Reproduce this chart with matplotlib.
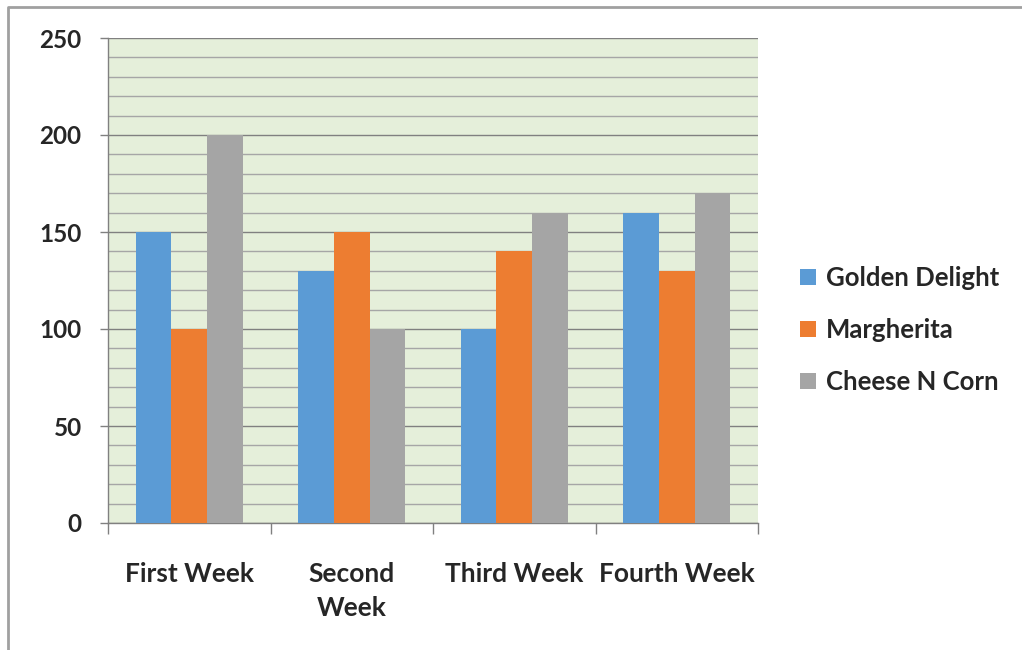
import numpy as np
import matplotlib.pyplot as plt
from matplotlib.ticker import MultipleLocator
from matplotlib.lines import Line2D

# Weekly sales per pizza
weeks = ['First Week', 'Second\nWeek', 'Third Week', 'Fourth Week']
golden = [150, 130, 100, 160]
marg = [100, 150, 140, 130]
cheese = [200, 100, 160, 170]
names = ['Golden Delight', 'Margherita', 'Cheese N Corn']
colours = ['#5b9bd5', '#ed7d31', '#a5a5a5']

plt.rcParams['font.family'] = ['Lato', 'DejaVu Sans']
txt = '#262626'

fig = plt.figure(figsize=(10.22, 6.5), dpi=100)
ax = fig.add_axes([108 / 1022, 127 / 650, 650 / 1022, 485 / 650])
ax.set_facecolor('#e5efda')

x = np.arange(len(weeks))
w = 0.22
series = [golden, marg, cheese]
bars = []
for i in range(3):
    b = ax.bar(x + (i - 1) * w, series[i], w, color=colours[i], zorder=3, label=names[i])
    bars.append(b)

ax.set_xlim(-0.5, 3.5)
ax.set_ylim(0, 250)

# gridlines: every 10, darker every 50
ax.yaxis.set_major_locator(MultipleLocator(50))
ax.yaxis.set_minor_locator(MultipleLocator(10))
ax.grid(which='minor', axis='y', color='#a6a6a6', linewidth=1.0, zorder=1)
ax.grid(which='major', axis='y', color='#808080', linewidth=1.0, zorder=1)
ax.tick_params(axis='y', which='minor', length=0)
ax.tick_params(axis='y', which='major', length=6, width=1, color='#808080',
               labelsize=17.5, labelcolor=txt, pad=13)
for lab in ax.get_yticklabels():
    lab.set_fontweight('bold')

# category boundaries as ticks, labels in centre
ax.set_xticks(np.arange(-0.5, 4, 1))
ax.set_xticklabels([])
ax.set_xticks(x, minor=True)
ax.set_xticklabels(weeks, minor=True, fontsize=19, fontweight='bold', color=txt, linespacing=1.5)
ax.tick_params(axis='x', which='major', length=8, width=1, color='#808080')
ax.tick_params(axis='x', which='minor', length=0, pad=28)

for s in ['top', 'right']:
    ax.spines[s].set_visible(False)
for s in ['left', 'bottom']:
    ax.spines[s].set_color('#808080')
    ax.spines[s].set_linewidth(1)

leg = fig.legend(handles=bars, labels=names, loc='center left',
                 bbox_to_anchor=(777 / 1022, 1 - 330 / 650), frameon=False,
                 fontsize=18.5, handlelength=0.6, handleheight=0.6, handletextpad=0.4,
                 labelspacing=1.1)
for t in leg.get_texts():
    t.set_fontweight('bold')
    t.set_color(txt)

# outer frame (top and left edges)
fig.add_artist(Line2D([8 / 1022, 8 / 1022, 1.0], [0.0, 1 - 7 / 650, 1 - 7 / 650],
                      color='#a0a0a0', linewidth=2, transform=fig.transFigure))

plt.savefig('out.png', dpi=100)
